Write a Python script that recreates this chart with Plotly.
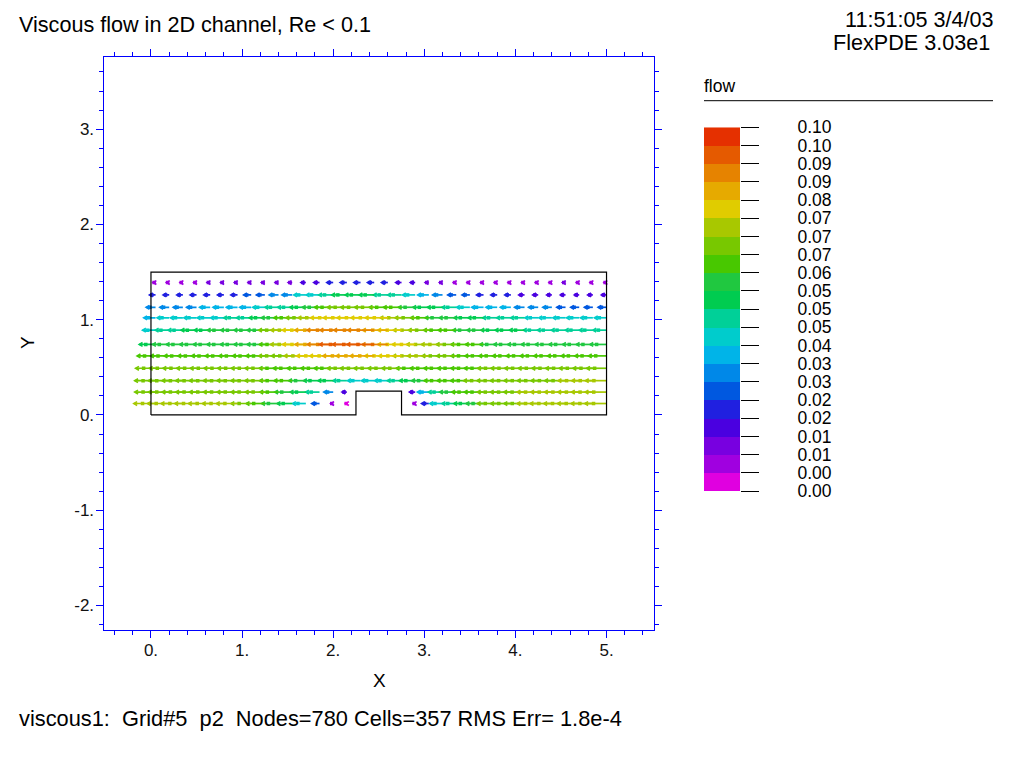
import plotly.graph_objects as go

# ---------------- data ----------------
# vertical positions of the arrow rows (bottom -> top)
rows_y = [0.12, 0.24, 0.36, 0.49, 0.62, 0.74, 0.89, 1.02, 1.13, 1.26, 1.39]
# horizontal positions of the arrow tails (nodes)
cols_x = [0.05, 0.20, 0.35, 0.50, 0.65, 0.80, 0.95, 1.10, 1.25, 1.40, 1.55, 1.70,
          1.85, 2.00, 2.15, 2.30, 2.45, 2.60, 2.75, 2.90, 3.05, 3.20, 3.35, 3.50,
          3.65, 3.80, 3.95, 4.10, 4.25, 4.40, 4.55, 4.70, 4.85, 5.00]

# flow speed (arrows point in -x direction); None = inside the obstacle
row_y012 = [0.072, 0.072, 0.072, 0.072, 0.072, 0.071, 0.070, 0.067, 0.062, 0.056, 0.050, 0.044,
            0.026, 0.008, 0.004, None, None, None, None, 0.006, 0.024, 0.042, 0.047, 0.053,
            0.058, 0.066, 0.067, 0.068, 0.070, 0.072, 0.072, 0.072, 0.072, 0.072]
row_y024 = [0.069, 0.069, 0.069, 0.069, 0.069, 0.068, 0.068, 0.067, 0.065, 0.062, 0.058, 0.052,
            0.046, 0.031, 0.016, None, None, None, None, 0.019, 0.038, 0.047, 0.055, 0.060,
            0.064, 0.066, 0.068, 0.069, 0.070, 0.070, 0.070, 0.071, 0.071, 0.071]
row_y036 = [0.069, 0.069, 0.069, 0.069, 0.069, 0.068, 0.068, 0.067, 0.066, 0.063, 0.060, 0.057,
            0.053, 0.050, 0.046, 0.043, 0.042, 0.044, 0.047, 0.052, 0.057, 0.061, 0.063, 0.064,
            0.066, 0.067, 0.068, 0.068, 0.069, 0.069, 0.069, 0.070, 0.070, 0.070]
row_y049 = [0.066, 0.066, 0.066, 0.066, 0.066, 0.066, 0.066, 0.066, 0.066, 0.064, 0.063, 0.062,
            0.062, 0.063, 0.065, 0.067, 0.067, 0.066, 0.065, 0.063, 0.062, 0.062, 0.062, 0.063,
            0.064, 0.065, 0.066, 0.066, 0.066, 0.066, 0.066, 0.066, 0.066, 0.066]
row_y062 = [0.061, 0.062, 0.062, 0.062, 0.062, 0.062, 0.062, 0.062, 0.063, 0.066, 0.069, 0.072,
            0.076, 0.078, 0.080, 0.081, 0.080, 0.077, 0.076, 0.074, 0.071, 0.068, 0.065, 0.063,
            0.062, 0.061, 0.061, 0.061, 0.060, 0.060, 0.060, 0.060, 0.060, 0.060]
row_y074 = [0.054, 0.055, 0.055, 0.056, 0.056, 0.056, 0.057, 0.057, 0.059, 0.064, 0.072, 0.077,
            0.081, 0.086, 0.091, 0.093, 0.090, 0.085, 0.079, 0.076, 0.074, 0.070, 0.066, 0.063,
            0.060, 0.058, 0.057, 0.056, 0.056, 0.055, 0.055, 0.055, 0.055, 0.055]
row_y089 = [0.043, 0.046, 0.049, 0.051, 0.053, 0.055, 0.056, 0.057, 0.059, 0.066, 0.071, 0.078,
            0.082, 0.087, 0.089, 0.089, 0.088, 0.084, 0.079, 0.073, 0.068, 0.063, 0.060, 0.057,
            0.055, 0.054, 0.052, 0.050, 0.049, 0.048, 0.047, 0.046, 0.045, 0.045]
row_y102 = [0.039, 0.040, 0.041, 0.042, 0.043, 0.044, 0.046, 0.049, 0.052, 0.057, 0.061, 0.066,
            0.071, 0.075, 0.078, 0.078, 0.077, 0.075, 0.071, 0.067, 0.061, 0.058, 0.056, 0.053,
            0.051, 0.048, 0.047, 0.046, 0.044, 0.043, 0.042, 0.042, 0.041, 0.040]
row_y113 = [0.031, 0.031, 0.032, 0.033, 0.035, 0.036, 0.037, 0.038, 0.040, 0.045, 0.048, 0.053,
            0.057, 0.062, 0.065, 0.066, 0.065, 0.062, 0.060, 0.056, 0.053, 0.050, 0.047, 0.044,
            0.039, 0.037, 0.035, 0.033, 0.032, 0.030, 0.029, 0.028, 0.028, 0.028]
row_y126 = [0.020, 0.020, 0.020, 0.021, 0.021, 0.021, 0.022, 0.025, 0.028, 0.031, 0.034, 0.040,
            0.044, 0.048, 0.050, 0.051, 0.050, 0.048, 0.046, 0.042, 0.037, 0.033, 0.028, 0.026,
            0.023, 0.021, 0.020, 0.019, 0.018, 0.017, 0.017, 0.016, 0.017, 0.017]
row_y139 = [0.008, 0.009, 0.009, 0.009, 0.010, 0.010, 0.010, 0.010, 0.011, 0.011, 0.013, 0.016,
            0.019, 0.021, 0.022, 0.022, 0.022, 0.021, 0.019, 0.016, 0.012, 0.010, 0.009, 0.009,
            0.009, 0.009, 0.009, 0.009, 0.009, 0.009, 0.010, 0.009, 0.009, 0.008]
speeds = [row_y012, row_y024, row_y036, row_y049, row_y062, row_y074,
          row_y089, row_y102, row_y113, row_y126, row_y139]

# channel boundary
boundary_x = [0, 2.25, 2.25, 2.75, 2.75, 5, 5, 0, 0]
boundary_y = [0, 0, 0.25, 0.25, 0, 0, 1.5, 1.5, 0]

# legend bins (bottom -> top)
bin_step = 0.005
bin_colors = ["#E000E0", "#A000E0", "#7800E0", "#4A00E0", "#2020E0", "#0058E0", "#0088E8",
              "#00B4E8", "#00CCCC", "#00D098", "#00CC50", "#20C840", "#48C800", "#78C800",
              "#A8C800", "#E0CC00", "#E6AA00", "#E68300", "#E55A00", "#E53000"]
bin_labels = ["0.00", "0.00", "0.01", "0.01", "0.02", "0.02", "0.03", "0.03", "0.04", "0.05", "0.05",
              "0.05", "0.06", "0.07", "0.07", "0.07", "0.08", "0.09", "0.09", "0.10", "0.10"]

x_ticks = [0, 1, 2, 3, 4, 5]
x_ticktext = ["0.", "1.", "2.", "3.", "4.", "5."]
y_ticks = [-2, -1, 0, 1, 2, 3]
y_ticktext = ["-2.", "-1.", "0.", "1.", "2.", "3."]

title_text = "Viscous flow in 2D channel, Re < 0.1"
stamp_time = "11:51:05 3/4/03"
stamp_prog = "FlexPDE 3.03e1"
footer_text = "viscous1:\u00a0\u00a0Grid#5\u00a0\u00a0p2\u00a0\u00a0Nodes=780 Cells=357 RMS Err= 1.8e-4"

# ---------------- styling constants ----------------
OFF = 8                      # page (body) margin of the html page
W, H = 1024 - 2 * OFF, 768 - 2 * OFF
ARROW_SCALE = 3.3            # data units of arrow length per unit of flow
HX, HY = 0.036, 0.020        # arrow head size (data units)
FONT = "Liberation Sans, Arial, sans-serif"
nb = len(bin_colors)


def px(xp):
    """screen x pixel -> paper fraction"""
    return (xp - OFF) / W


def py(yp):
    """screen y pixel -> paper fraction"""
    return 1 - (yp - OFF) / H


seg_x = [[] for _ in range(nb)]
seg_y = [[] for _ in range(nb)]
dot_x = [[] for _ in range(nb)]
dot_y = [[] for _ in range(nb)]
for yv, row in zip(rows_y, speeds):
    for xv, v in zip(cols_x, row):
        if v is None:
            continue
        b = min(int(v / bin_step), nb - 1)
        L = v * ARROW_SCALE
        xh = xv - L
        seg_x[b] += [xv, xh, None, xh + HX, xh, xh + HX, None]
        seg_y[b] += [yv, yv, None, yv + HY, yv, yv - HY, None]
        dot_x[b].append(xv - 0.6 * L)
        dot_y[b].append(yv)

fig = go.Figure()
for b in range(nb):
    if seg_x[b]:
        fig.add_trace(go.Scatter(x=seg_x[b], y=seg_y[b], mode="lines",
                                 line=dict(color=bin_colors[b], width=1.7),
                                 hoverinfo="skip", showlegend=False))
        fig.add_trace(go.Scatter(x=dot_x[b], y=dot_y[b], mode="markers",
                                 marker=dict(symbol="square", size=3.5, color=bin_colors[b]),
                                 hoverinfo="skip", showlegend=False))

fig.add_trace(go.Scatter(x=boundary_x, y=boundary_y, mode="lines",
                         line=dict(color="black", width=1.2),
                         hoverinfo="skip", showlegend=False))

# legend as a discrete heat strip
cscale = []
for k, c in enumerate(bin_colors):
    cscale.append([k / nb, c])
    cscale.append([(k + 1) / nb, c])
fig.add_trace(go.Heatmap(z=[[k] for k in range(nb)], x=[0], y=list(range(nb)),
                         colorscale=cscale, zmin=-0.5, zmax=nb - 0.5, showscale=False,
                         xaxis="x2", yaxis="y2", hoverinfo="skip"))

axis_common = dict(showline=True, linecolor="blue", linewidth=1, mirror="ticks",
                   ticks="outside", ticklen=7, tickwidth=1, tickcolor="blue",
                   showgrid=False, zeroline=False, automargin=False,
                   ticklabelstandoff=-2,
                   tickfont=dict(family=FONT, size=17, color="#111"),
                   minor=dict(ticks="outside", ticklen=4, tickwidth=1, tickcolor="blue",
                              dtick=0.2, tick0=0, showgrid=False))

fig.update_layout(
    width=W, height=H, autosize=False,
    margin=dict(l=0, r=0, t=0, b=0, pad=0, autoexpand=False),
    paper_bgcolor="white", plot_bgcolor="white", showlegend=False,
    xaxis=dict(domain=[px(103.5), px(654)], range=[-0.521, 5.521],
               tickmode="array", tickvals=x_ticks, ticktext=x_ticktext, **axis_common),
    yaxis=dict(domain=[py(630), py(57)], range=[-2.257, 3.757],
               tickmode="array", tickvals=y_ticks, ticktext=y_ticktext, **axis_common),
    xaxis2=dict(domain=[px(704), px(740)], anchor="y2", range=[-0.5, 0.5], visible=False),
    yaxis2=dict(domain=[py(491), py(127.3)], anchor="x2", range=[-0.5, nb - 0.5],
                side="right", tickmode="array", automargin=False,
                tickvals=[k - 0.5 for k in range(nb + 1)], ticktext=bin_labels,
                ticks="outside", ticklen=18, tickwidth=1, tickcolor="black",
                showline=False, showgrid=False, zeroline=False,
                ticklabelstandoff=35,
                tickfont=dict(family=FONT, size=17.5, color="black")),
    font=dict(family=FONT, color="black"),
)

annots = [
    dict(text=title_text, x=px(17), y=py(24), xanchor="left", yanchor="middle", size=21.6),
    dict(text=stamp_time, x=px(996), y=py(19), xanchor="right", yanchor="middle", size=21.6),
    dict(text=stamp_prog, x=px(992), y=py(42), xanchor="right", yanchor="middle", size=21.6),
    dict(text=footer_text, x=px(17), y=py(718), xanchor="left", yanchor="middle", size=21.8),
    dict(text="flow", x=px(702), y=py(86), xanchor="left", yanchor="middle", size=17.5),
    dict(text="X", x=px(379), y=py(680), xanchor="center", yanchor="middle", size=19),
    dict(text="Y", x=px(27), y=py(343), xanchor="center", yanchor="middle", textangle=-90, size=19),
]
for a in annots:
    size = a.pop("size")
    fig.add_annotation(xref="paper", yref="paper", showarrow=False,
                       font=dict(family=FONT, color="black", size=size), **a)

fig.add_shape(type="line", xref="paper", yref="paper", x0=px(704), x1=px(993),
              y0=py(100.7), y1=py(100.7), line=dict(color="black", width=1))

fig.write_html("out.html", config={"displayModeBar": False})
